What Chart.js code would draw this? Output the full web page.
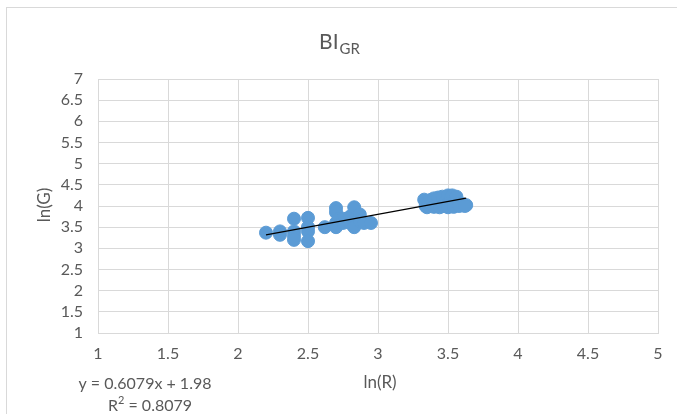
<!DOCTYPE html>
<html>
<head>
<meta charset="utf-8">
<script src="https://cdn.jsdelivr.net/npm/chart.js@4/dist/chart.umd.min.js"></script>
<style>
html,body{margin:0;padding:0;background:#fff;}
#wrap{width:677px;height:414px;position:relative;}
</style>
</head>
<body>
<div id="wrap"><canvas id="c" width="677" height="414"></canvas></div>
<script>
// ln(R) values
const lnR = [
  2.20, 2.30, 2.30, 2.40, 2.40, 2.40, 2.40, 2.50, 2.50, 2.50, 2.50,
  2.62, 2.70, 2.70, 2.70, 2.70, 2.72, 2.75, 2.75, 2.80, 2.80, 2.83, 2.83, 2.87, 2.87, 2.90, 2.95,
  3.33, 3.34, 3.36, 3.38, 3.40, 3.42, 3.43, 3.45, 3.46, 3.48, 3.50, 3.50, 3.52, 3.53, 3.55, 3.56, 3.58, 3.60, 3.63,
  3.35, 3.40, 3.44, 3.47, 3.50, 3.54, 3.58, 3.62
];
// ln(G) values
const lnG = [
  3.37, 3.40, 3.32, 3.70, 3.40, 3.30, 3.20, 3.72, 3.50, 3.40, 3.17,
  3.50, 3.95, 3.85, 3.60, 3.50, 3.70, 3.70, 3.60, 3.75, 3.60, 3.97, 3.50, 3.80, 3.65, 3.60, 3.60,
  4.15, 4.00, 4.10, 4.15, 4.18, 4.05, 4.20, 4.00, 4.22, 4.10, 4.25, 4.05, 4.20, 4.25, 4.15, 4.22, 4.05, 4.05, 4.02,
  3.97, 3.98, 3.97, 4.00, 3.97, 3.98, 4.00, 4.00
];
// trend line
const slope = 0.6079, intercept = 1.98;
const trendX = [2.20, 3.63];
const titleMain = "BI", titleSub = "GR";
const xTitle = "ln(R)", yTitle = "ln(G)";
const eqText = "y = 0.6079x + 1.98", r2Main = "R", r2Rest = " = 0.8079";

const pts = lnR.map((x, i) => ({x: x, y: lnG[i]}));
const trend = trendX.map(x => ({x: x, y: slope * x + intercept}));

const FONT = "Lato, 'Open Sans', sans-serif";
const GREY = '#595959';
const fmt = v => String(Number(v.toFixed(1)));

const deco = {
  id: 'deco',
  beforeDraw(chart) {
    const ctx = chart.ctx;
    ctx.save();
    ctx.fillStyle = '#fff';
    ctx.fillRect(0, 0, chart.width, chart.height);
    ctx.strokeStyle = '#d9d9d9';
    ctx.lineWidth = 1;
    ctx.strokeRect(6.5, 7.5, 800, 600);
    ctx.restore();
  },
  afterDraw(chart) {
    const ctx = chart.ctx;
    ctx.save();
    ctx.fillStyle = GREY;
    ctx.textBaseline = 'alphabetic';
    // Title with subscript
    ctx.font = "21px " + FONT;
    const w1 = ctx.measureText(titleMain).width;
    ctx.font = "15px " + FONT;
    const w2 = ctx.measureText(titleSub).width;
    const start = 339 - (w1 + w2) / 2;
    ctx.font = "21px " + FONT;
    ctx.fillText(titleMain, start, 49);
    ctx.font = "15px " + FONT;
    ctx.fillText(titleSub, start + w1 + 1, 54);
    // axis titles
    ctx.font = "17px " + FONT;
    ctx.textAlign = 'center';
    ctx.textBaseline = 'middle';
    ctx.fillText(xTitle, 380, 383);
    ctx.save();
    ctx.translate(45, 205);
    ctx.rotate(-Math.PI / 2);
    ctx.fillText(yTitle, 0, 0);
    ctx.restore();
    // equation
    ctx.font = "16px " + FONT;
    ctx.fillText(eqText, 145, 384);
    ctx.textAlign = 'left';
    const wr = ctx.measureText(r2Main).width;
    ctx.font = "11px " + FONT;
    const ws = ctx.measureText("2").width;
    ctx.font = "16px " + FONT;
    const wrest = ctx.measureText(r2Rest).width;
    const s2 = 150 - (wr + ws + wrest) / 2;
    ctx.fillText(r2Main, s2, 406);
    ctx.font = "11px " + FONT;
    ctx.fillText("2", s2 + wr, 400);
    ctx.font = "16px " + FONT;
    ctx.fillText(r2Rest, s2 + wr + ws, 406);
    ctx.restore();
  }
};

new Chart(document.getElementById('c'), {
  type: 'scatter',
  data: {
    datasets: [
      {
        data: trend,
        type: 'line',
        borderColor: '#000',
        borderWidth: 1.2,
        pointRadius: 0,
        fill: false,
        order: 0
      },
      {
        data: pts,
        backgroundColor: '#5B9BD5',
        borderColor: '#5B9BD5',
        pointRadius: 6.5,
        pointHoverRadius: 6.5,
        order: 1
      }
    ]
  },
  options: {
    responsive: false,
    animation: false,
    layout: {padding: {top: 79, right: 19, left: 0, bottom: 0}},
    plugins: {legend: {display: false}, tooltip: {enabled: false}, title: {display: false}},
    scales: {
      x: {
        type: 'linear', min: 1, max: 5,
        ticks: {stepSize: 0.5, autoSkip: false, color: GREY, font: {size: 16, family: FONT}, padding: 11, callback: fmt},
        grid: {color: '#d9d9d9', drawTicks: false},
        border: {color: '#d9d9d9'},
        afterFit(s) { s.height = 81; }
      },
      y: {
        type: 'linear', min: 1, max: 7,
        ticks: {stepSize: 0.5, autoSkip: false, color: GREY, font: {size: 16, family: FONT}, padding: 15, callback: fmt},
        grid: {color: '#d9d9d9', drawTicks: false},
        border: {color: '#d9d9d9'},
        afterFit(s) { s.width = 98; }
      }
    }
  },
  plugins: [deco]
});
</script>
</body>
</html>
